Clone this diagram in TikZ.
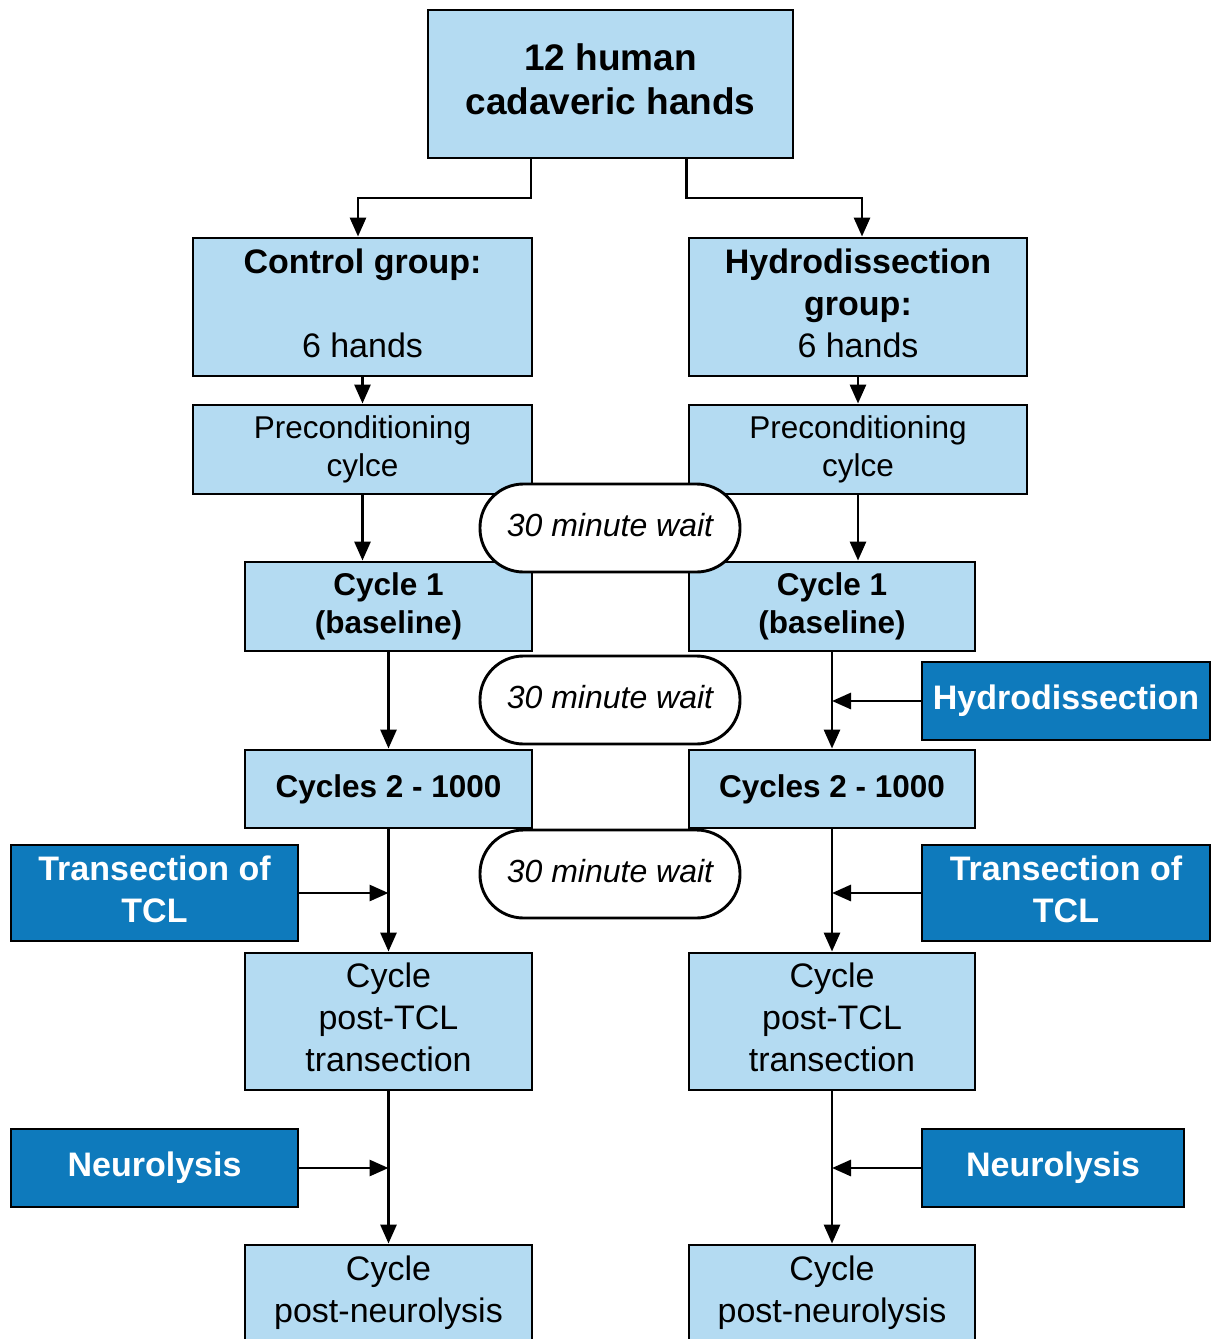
\documentclass[tikz,border=0pt]{standalone}
\usepackage{fontspec}
\setmainfont{Liberation Sans}
\usetikzlibrary{arrows.meta}
\definecolor{lightb}{RGB}{180,219,242}
\definecolor{darkb}{RGB}{14,122,188}
\newcommand\strtop{\rule{0pt}{30pt}}
\newcommand\strbot{\rule[-13.5pt]{0pt}{13.5pt}}
\begin{document}
\begin{tikzpicture}[x=1pt,y=-1pt,
  lbox/.style={draw=black, line width=2.9pt, fill=lightb, inner sep=0pt, align=center, text=black},
  dbox/.style={draw=black, line width=2.9pt, fill=darkb, inner sep=0pt, align=center, text=white,
    font=\fontsize{34}{42}\selectfont\bfseries},
  waitbox/.style={draw=black, line width=2.9pt, fill=white, rounded corners=43.5pt, minimum width=260pt,
    minimum height=88pt, inner sep=0pt, font=\fontsize{32}{38}\selectfont\itshape},
  fbig/.style={font=\fontsize{34}{42}\selectfont},
  fmid/.style={font=\fontsize{31.5}{38}\selectfont},
  fmidb/.style={font=\fontsize{31.5}{38}\selectfont\bfseries},
  arr/.style={draw=black, line width=2.9pt, -{Triangle[length=19pt,width=16pt]}},
]
\useasboundingbox (0,0) rectangle (1216,1339);

% top
\node[lbox, minimum width=365pt, minimum height=148pt, font=\fontsize{37}{44}\selectfont\bfseries] (top) at (610.5,84) {\strtop 12 human\\cadaveric hands\strbot};

% groups
\node[lbox, fbig, minimum width=339pt, minimum height=138pt] (ctrl) at (362.5,307) {\strtop\textbf{Control group:}\\ \mbox{}\\6 hands\strbot};
\node[lbox, fbig, minimum width=338pt, minimum height=138pt] (hydg) at (858,307) {\strtop\textbf{Hydrodissection}\\\textbf{group:}\\6 hands\strbot};

% preconditioning
\node[lbox, fmid, minimum width=339pt, minimum height=89pt] (preL) at (362.5,449.5) {\strtop Preconditioning\\cylce\strbot};
\node[lbox, fmid, minimum width=338pt, minimum height=89pt] (preR) at (858,449.5) {\strtop Preconditioning\\cylce\strbot};

% cycle 1
\node[lbox, fmidb, minimum width=287pt, minimum height=89pt] (c1L) at (388.5,606.5) {\strtop Cycle 1\\(baseline)\strbot};
\node[lbox, fmidb, minimum width=286pt, minimum height=89pt] (c1R) at (832,606.5) {\strtop Cycle 1\\(baseline)\strbot};

% cycles 2-1000
\node[lbox, fmidb, minimum width=287pt, minimum height=78pt] (c2L) at (388.5,789) {\strtop Cycles 2 - 1000\strbot};
\node[lbox, fmidb, minimum width=286pt, minimum height=78pt] (c2R) at (832,789) {\strtop Cycles 2 - 1000\strbot};

% post-TCL
\node[lbox, fbig, minimum width=287pt, minimum height=137pt] (ptL) at (388.5,1021.5) {\strtop Cycle\\post-TCL\\transection\strbot};
\node[lbox, fbig, minimum width=286pt, minimum height=137pt] (ptR) at (832,1021.5) {\strtop Cycle\\post-TCL\\transection\strbot};

% post-neurolysis (cut by the page edge)
\node[lbox, fbig, minimum width=287pt, minimum height=138pt] (pnL) at (388.5,1314) {\strtop Cycle\\post-neurolysis\\ \mbox{}\strbot};
\node[lbox, fbig, minimum width=286pt, minimum height=138pt] (pnR) at (832,1314) {\strtop Cycle\\post-neurolysis\\ \mbox{}\strbot};

% interventions
\node[dbox, minimum width=288pt, minimum height=78pt] (hydD) at (1066,701) {\strtop Hydrodissection\strbot};
\node[dbox, minimum width=287pt, minimum height=96pt] (trL) at (154.5,893) {\strtop Transection of\\TCL\strbot};
\node[dbox, minimum width=288pt, minimum height=96pt] (trR) at (1066,893) {\strtop Transection of\\TCL\strbot};
\node[dbox, minimum width=287pt, minimum height=78pt] (nL) at (154.5,1168) {\strtop Neurolysis\strbot};
\node[dbox, minimum width=262pt, minimum height=78pt] (nR) at (1053,1168) {\strtop Neurolysis\strbot};

% connectors
\draw[arr] ([xshift=-79.5pt]top.south) |- (358,198) -- ([xshift=-4.5pt]ctrl.north);
\draw[arr] ([xshift=76pt]top.south) |- (862,198) -- ([xshift=4pt]hydg.north);
\draw[arr] (ctrl.south) -- (preL.north);
\draw[arr] (hydg.south) -- (preR.north);
\draw[arr] (preL.south) -- (preL.south |- c1L.north);
\draw[arr] (preR.south) -- (preR.south |- c1R.north);
\draw[arr] (c1L.south) -- (c2L.north);
\draw[arr] (c1R.south) -- (c2R.north);
\draw[arr] (c2L.south) -- (ptL.north);
\draw[arr] (c2R.south) -- (ptR.north);
\draw[arr] (ptL.south) -- (pnL.north);
\draw[arr] (ptR.south) -- (pnR.north);
\draw[arr] (hydD.west) -- (hydD.west -| c1R.south);
\draw[arr] (trL.east) -- (trL.east -| c2L.south);
\draw[arr] (trR.west) -- (trR.west -| c2R.south);
\draw[arr] (nL.east) -- (nL.east -| ptL.south);
\draw[arr] (nR.west) -- (nR.west -| ptR.south);

% waits
\node[waitbox] (w1) at (610,528) {\strtop 30 minute wait\strbot};
\node[waitbox] (w2) at (610,700) {\strtop 30 minute wait\strbot};
\node[waitbox] (w3) at (610,874) {\strtop 30 minute wait\strbot};
\end{tikzpicture}
\end{document}
